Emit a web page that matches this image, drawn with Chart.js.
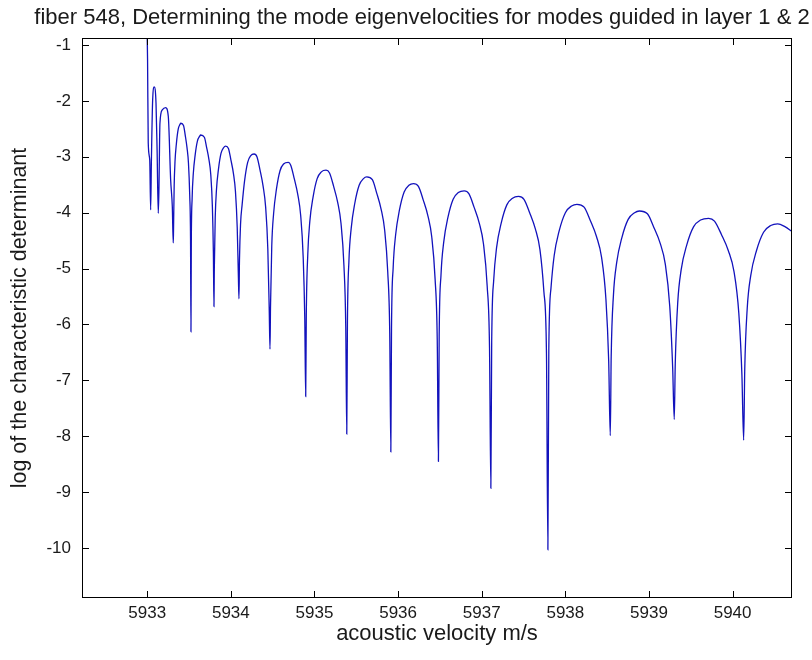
<!DOCTYPE html>
<html>
<head>
<meta charset="utf-8">
<script src="https://cdn.jsdelivr.net/npm/chart.js@4.4.1/dist/chart.umd.min.js"></script>
<style>
  body { margin: 0; background: #fff; }
</style>
</head>
<body>
<canvas id="grafico" width="812" height="660"></canvas>
<script>
let velocidade = [
  5933.000, 5933.004, 5933.012, 5933.030, 5933.041,
  5933.050, 5933.065, 5933.084, 5933.105, 5933.118, 5933.132,
  5933.140, 5933.152, 5933.180, 5933.220, 5933.252, 5933.280, 5933.300, 5933.311,
  5933.314, 5933.322, 5933.332, 5933.349, 5933.370, 5933.392, 5933.403, 5933.434, 5933.455, 5933.476, 5933.493, 5933.508, 5933.518, 5933.523,
  5933.527, 5933.537, 5933.551, 5933.573, 5933.600, 5933.628, 5933.639, 5933.683, 5933.710, 5933.738, 5933.760, 5933.779, 5933.791, 5933.798,
  5933.802, 5933.813, 5933.828, 5933.852, 5933.882, 5933.912, 5933.938, 5933.971, 5934.001, 5934.031, 5934.055, 5934.076, 5934.090, 5934.097,
  5934.103, 5934.116, 5934.134, 5934.164, 5934.201, 5934.238, 5934.277, 5934.312, 5934.349, 5934.386, 5934.416, 5934.442, 5934.459, 5934.468,
  5934.474, 5934.489, 5934.511, 5934.545, 5934.588, 5934.630, 5934.687, 5934.716, 5934.758, 5934.801, 5934.835, 5934.865, 5934.884, 5934.895,
  5934.902, 5934.920, 5934.944, 5934.983, 5935.032, 5935.082, 5935.138, 5935.180, 5935.229, 5935.278, 5935.317, 5935.352, 5935.374, 5935.386,
  5935.394, 5935.412, 5935.439, 5935.481, 5935.534, 5935.586, 5935.625, 5935.692, 5935.744, 5935.797, 5935.839, 5935.876, 5935.900, 5935.913,
  5935.921, 5935.941, 5935.970, 5936.015, 5936.072, 5936.129, 5936.183, 5936.243, 5936.300, 5936.357, 5936.402, 5936.442, 5936.468, 5936.482,
  5936.491, 5936.513, 5936.545, 5936.595, 5936.658, 5936.720, 5936.790, 5936.846, 5936.908, 5936.971, 5937.021, 5937.065, 5937.093, 5937.109,
  5937.119, 5937.143, 5937.177, 5937.232, 5937.300, 5937.368, 5937.439, 5937.505, 5937.573, 5937.641, 5937.696, 5937.743, 5937.774, 5937.791,
  5937.802, 5937.828, 5937.866, 5937.925, 5938.000, 5938.074, 5938.138, 5938.224, 5938.298, 5938.373, 5938.433, 5938.485, 5938.518, 5938.537,
  5938.548, 5938.575, 5938.614, 5938.675, 5938.751, 5938.828, 5938.884, 5938.981, 5939.057, 5939.134, 5939.195, 5939.248, 5939.283, 5939.302,
  5939.314, 5939.344, 5939.385, 5939.451, 5939.534, 5939.617, 5939.713, 5939.783, 5939.866, 5939.949, 5940.016, 5940.074, 5940.111, 5940.132,
  5940.145, 5940.175, 5940.217, 5940.285, 5940.370, 5940.455, 5940.539, 5940.625, 5940.714
];
let logDet = [
  -0.88, -1.27, -2.75, -3.06, -3.95,
  -3.06, -1.98, -1.75, -2.04, -2.88, -4.01,
  -3.59, -2.40, -2.16, -2.12, -2.28, -3.41, -3.90, -4.54,
  -4.35, -3.53, -3.09, -2.76, -2.51, -2.42, -2.40, -2.44, -2.62, -2.84, -3.11, -3.68, -4.50, -6.13,
  -4.56, -3.74, -3.30, -2.97, -2.72, -2.63, -2.61, -2.65, -2.83, -3.05, -3.32, -3.89, -4.71, -5.68,
  -5.02, -4.09, -3.59, -3.22, -2.94, -2.84, -2.81, -2.85, -3.06, -3.30, -3.62, -4.26, -5.14, -5.54,
  -4.85, -4.20, -3.87, -3.43, -3.10, -2.98, -2.95, -3.00, -3.24, -3.53, -3.90, -4.65, -5.75, -6.44,
  -5.70, -4.60, -4.02, -3.58, -3.25, -3.13, -3.10, -3.15, -3.39, -3.68, -4.05, -4.80, -5.90, -7.29,
  -5.84, -4.74, -4.16, -3.72, -3.39, -3.27, -3.24, -3.29, -3.53, -3.82, -4.19, -4.94, -6.04, -7.96,
  -5.96, -4.86, -4.28, -3.84, -3.51, -3.39, -3.36, -3.41, -3.65, -3.94, -4.31, -5.06, -6.16, -8.28,
  -6.08, -4.98, -4.40, -3.96, -3.63, -3.51, -3.48, -3.53, -3.77, -4.06, -4.43, -5.18, -6.28, -8.45,
  -6.21, -5.11, -4.53, -4.09, -3.76, -3.64, -3.61, -3.66, -3.90, -4.19, -4.56, -5.31, -6.41, -8.93,
  -6.31, -5.21, -4.63, -4.19, -3.86, -3.74, -3.71, -3.76, -4.00, -4.29, -4.66, -5.41, -6.51, -10.03,
  -6.45, -5.35, -4.77, -4.33, -4.00, -3.88, -3.85, -3.90, -4.14, -4.43, -4.80, -5.55, -6.65, -7.99,
  -6.57, -5.47, -4.89, -4.45, -4.12, -4.00, -3.97, -4.02, -4.26, -4.55, -4.92, -5.67, -6.77, -7.70,
  -6.70, -5.60, -5.02, -4.58, -4.25, -4.13, -4.10, -4.15, -4.39, -4.68, -5.05, -5.80, -6.90, -8.07,
  -6.80, -5.70, -5.12, -4.68, -4.35, -4.23, -4.20, -4.25, -4.34
];

let ticksX = [5933, 5934, 5935, 5936, 5937, 5938, 5939, 5940];
let ticksY = [-10, -9, -8, -7, -6, -5, -4, -3, -2, -1];
let limitesX = [5932.22, 5940.71];
let limitesY = [-10.893, -0.875];

let titulo = "fiber 548, Determining the mode eigenvelocities for modes guided in layer 1 & 2";
let tituloX = "acoustic velocity m/s";
let tituloY = "log of the characteristic determinant";

let pontos = velocidade.map((v, i) => ({x: v, y: logDet[i]}));

let fonte = "'Liberation Sans', Arial, sans-serif";

// box around the axes, ticks pointing inwards (matlab style) and the title
let moldura = {
  id: 'moldura',
  afterDraw(chart) {
    let ctx = chart.ctx;
    let a = chart.chartArea;
    let sx = chart.scales.x, sy = chart.scales.y;
    ctx.save();
    ctx.strokeStyle = '#000';
    ctx.lineWidth = 1;
    ctx.strokeRect(a.left + 0.5, a.top + 0.5, a.right - a.left - 1, a.bottom - a.top - 1);
    ctx.beginPath();
    ticksX.forEach(t => {
      let px = Math.round(sx.getPixelForValue(t)) + 0.5;
      ctx.moveTo(px, a.bottom); ctx.lineTo(px, a.bottom - 7);
      ctx.moveTo(px, a.top); ctx.lineTo(px, a.top + 7);
    });
    ticksY.forEach(t => {
      let py = Math.round(sy.getPixelForValue(t)) + 0.5;
      ctx.moveTo(a.left, py); ctx.lineTo(a.left + 7, py);
      ctx.moveTo(a.right, py); ctx.lineTo(a.right - 7, py);
    });
    ctx.stroke();

    ctx.fillStyle = '#1a1a1a';
    ctx.font = "22px " + fonte;
    ctx.textAlign = 'center';
    ctx.textBaseline = 'middle';
    ctx.fillText(titulo, 422, 18);
    ctx.restore();
  }
};

let grafico = new Chart(document.getElementById('grafico'), {
  type: 'line',
  data: {
    datasets: [{
      data: pontos,
      borderColor: '#1212bc',
      borderWidth: 1.3,
      pointRadius: 0,
      fill: false,
      cubicInterpolationMode: 'monotone'
    }]
  },
  options: {
    responsive: false,
    animation: false,
    layout: { padding: { top: 38, right: 20, left: 0, bottom: 0 } },
    plugins: {
      legend: { display: false },
      tooltip: { enabled: false }
    },
    scales: {
      x: {
        type: 'linear',
        min: limitesX[0],
        max: limitesX[1],
        afterBuildTicks: s => { s.ticks = ticksX.map(v => ({value: v})); },
        afterFit: s => { s.height = 62; },
        grid: { display: false, drawTicks: false },
        border: { display: false },
        ticks: {
          padding: 5,
          color: '#1a1a1a',
          font: { family: fonte, size: 17 },
          callback: v => String(v)
        },
        title: {
          display: true,
          text: tituloX,
          color: '#1a1a1a',
          font: { family: fonte, size: 22 },
          padding: { top: 0, bottom: 13 }
        }
      },
      y: {
        type: 'linear',
        min: limitesY[0],
        max: limitesY[1],
        afterBuildTicks: s => { s.ticks = ticksY.map(v => ({value: v})); },
        afterFit: s => { s.width = 82; },
        grid: { display: false, drawTicks: false },
        border: { display: false },
        ticks: {
          padding: 11,
          color: '#1a1a1a',
          font: { family: fonte, size: 17 },
          callback: v => String(v)
        },
        title: {
          display: true,
          text: tituloY,
          color: '#1a1a1a',
          font: { family: fonte, size: 21.5 },
          padding: { top: 7, bottom: 0 }
        }
      }
    }
  },
  plugins: [moldura]
});
</script>
</body>
</html>
